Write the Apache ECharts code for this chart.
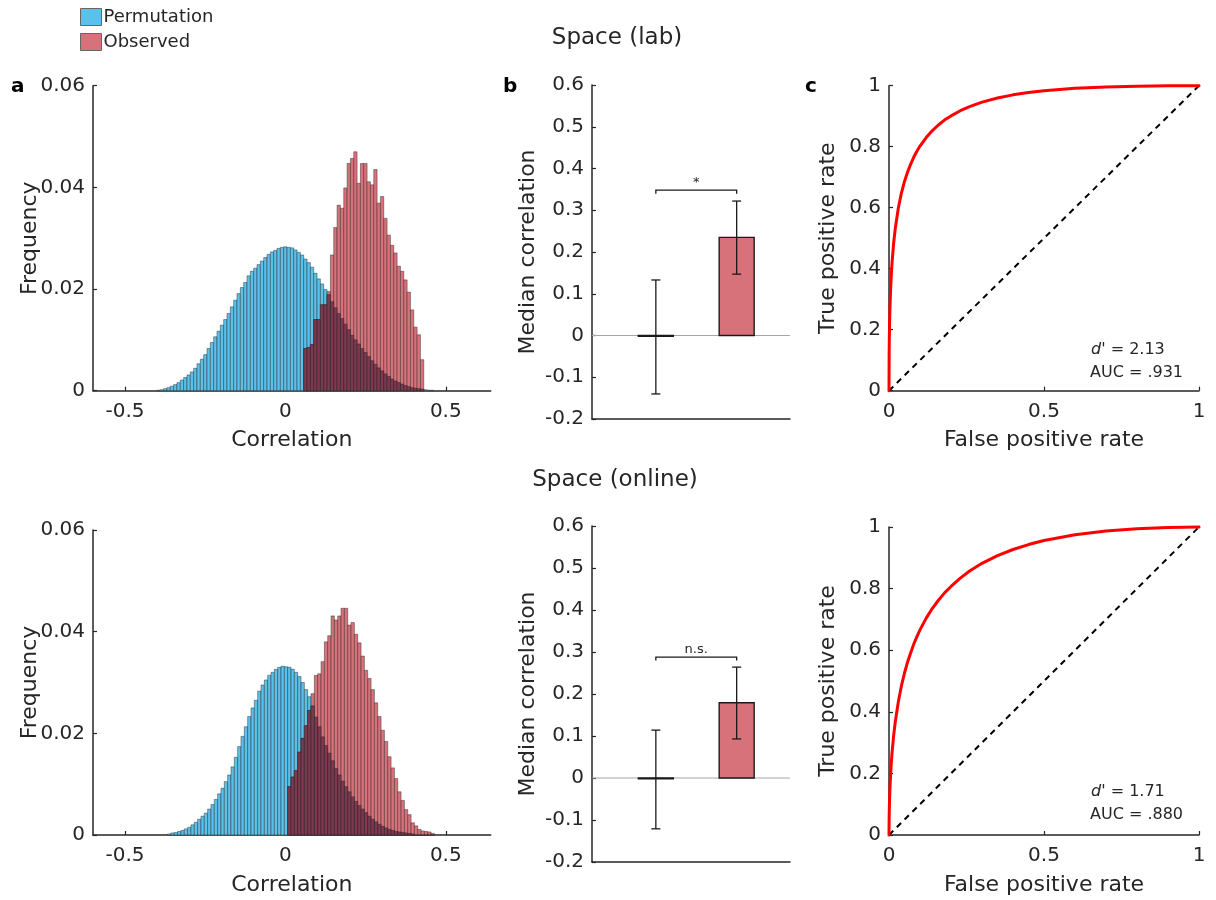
<!DOCTYPE html>
<html><head><meta charset="utf-8">
<script src="https://cdn.jsdelivr.net/npm/echarts@6/dist/echarts.min.js"></script>
<style>html,body{margin:0;padding:0;background:#fff}#c{width:1216px;height:900px}</style>
</head><body><div id="c"></div>
<script>
// ---------------- DATA ----------------
const histBinWidth = 0.0104;
const histXTicks = [-0.5, 0, 0.5];

// Space (lab): permutation histogram (bins from permTopStart)
const permTopStart = -0.4006;
const permTop = [0.0001,0.0002,0.0004,0.0006,0.0009,0.0012,0.0016,0.0021,0.0026,0.0031,
 0.0037,0.0044,0.0053,0.0062,0.0071,0.0083,0.0095,0.0106,0.0117,0.0129,
 0.0140,0.0152,0.0165,0.0178,0.0191,0.0203,0.0213,0.0226,0.0235,0.0241,
 0.0248,0.0255,0.0262,0.0268,0.0273,0.0276,0.0280,0.0282,0.0283,0.0282,
 0.0281,0.0277,0.0272,0.0267,0.0259,0.0252,0.0243,0.0231,0.0220,0.0210,
 0.0199,0.0189,0.0175,0.0163,0.0152,0.0142,0.0131,0.0120,0.0109,0.0100,
 0.0092,0.0083,0.0075,0.0067,0.0059,0.0052,0.0045,0.0039,0.0033,0.0028,
 0.0023,0.0019,0.0016,0.0013,0.0010,0.0008,0.0006,0.0005,0.0004,0.0003,
 0.0002,0.0001,0.0001];
// Space (lab): observed histogram, first bin index on same grid
const obsTopFirstBin = 44;
const obsTop = [0.0083,0.0085,0.0091,0.0140,0.0140,0.0169,0.0169,0.0195,0.0267,0.0321,
 0.0365,0.0359,0.0399,0.0447,0.0457,0.0470,0.0408,0.0447,0.0447,0.0411,
 0.0405,0.0435,0.0369,0.0382,0.0339,0.0306,0.0286,0.0271,0.0245,0.0235,
 0.0218,0.0194,0.0159,0.0125,0.0110,0.0061];

// Space (online)
const permBotStart = -0.3674;
const permBot = [0.0002,0.0004,0.0005,0.0007,0.0009,0.0012,0.0015,0.0020,0.0025,0.0031,
 0.0037,0.0043,0.0051,0.0060,0.0070,0.0081,0.0092,0.0105,0.0118,0.0134,
 0.0153,0.0174,0.0194,0.0213,0.0233,0.0250,0.0265,0.0283,0.0295,0.0305,
 0.0314,0.0320,0.0326,0.0330,0.0332,0.0331,0.0330,0.0326,0.0320,0.0312,
 0.0300,0.0286,0.0272,0.0254,0.0232,0.0213,0.0193,0.0176,0.0161,0.0146,
 0.0131,0.0118,0.0106,0.0095,0.0085,0.0075,0.0066,0.0058,0.0051,0.0044,
 0.0037,0.0031,0.0026,0.0021,0.0017,0.0014,0.0011,0.0009,0.0007,0.0006,
 0.0005,0.0004,0.0003,0.0002];
const obsBotFirstBin = 36;
const obsBot = [0.0095,0.0114,0.0127,0.0163,0.0190,0.0215,0.0245,0.0278,0.0314,0.0317,
 0.0341,0.0380,0.0392,0.0431,0.0423,0.0431,0.0446,0.0446,0.0413,0.0418,
 0.0395,0.0378,0.0352,0.0324,0.0308,0.0286,0.0260,0.0233,0.0206,0.0184,
 0.0154,0.0132,0.0111,0.0085,0.0068,0.0050,0.0040,0.0024,0.0018,0.0011,
 0.0008,0.0007,0.0006,0.0003];

// Median correlation bars (category positions 1 = permutation, 2 = observed)
const barCategories = [1, 2];
const medianTop = [-0.002, 0.235];
const errLowTop = [-0.140, 0.147];
const errHighTop = [0.133, 0.322];
const sigTopY = 0.348, sigTopLabel = '*';
const medianBot = [-0.002, 0.179];
const errLowBot = [-0.121, 0.093];
const errHighBot = [0.114, 0.264];
const sigBotY = 0.288, sigBotLabel = 'n.s.';

// ROC curves
const fpr = [0, 0.0005, 0.001, 0.002, 0.003, 0.005, 0.0075, 0.01, 0.015, 0.02, 0.03, 0.04, 0.05, 0.06, 0.07, 0.08, 0.09,
  0.1, 0.12, 0.14, 0.16, 0.18, 0.2, 0.23, 0.26, 0.3, 0.35, 0.4, 0.45, 0.5, 0.6, 0.7, 0.8, 0.9, 1];
const tprTop = [0, 0.123, 0.169, 0.227, 0.268, 0.328, 0.381, 0.422, 0.484, 0.530, 0.598, 0.648, 0.686, 0.717, 0.743, 0.766, 0.785,
  0.802, 0.830, 0.853, 0.872, 0.888, 0.901, 0.918, 0.9315, 0.946, 0.9595, 0.970, 0.9775, 0.9834, 0.9914, 0.996, 0.9985, 0.9997, 1];
const tprBot = [0, 0.057, 0.084, 0.121, 0.150, 0.193, 0.235, 0.269, 0.323, 0.365, 0.432, 0.484, 0.526, 0.562, 0.592, 0.620, 0.644,
  0.666, 0.704, 0.736, 0.763, 0.787, 0.807, 0.834, 0.857, 0.882, 0.907, 0.927, 0.943, 0.956, 0.975, 0.987, 0.9946, 0.9986, 1];
const dPrimeText = ['2.13', '1.71'];
const aucText = ['.931', '.880'];

// ---------------- STYLE ----------------
const FONT = 'DejaVu Sans';
const INK = '#262626';
const BLUE = '#5BC0EA';
const RED = '#D8727A';
const DARK = '#7C3A50';
const EDGE = 'rgba(30,30,30,0.6)';
const axisLine = {show: true, onZero: false, lineStyle: {color: INK, width: 1.5}};
const tickInside = {show: true, inside: true, length: 4, lineStyle: {color: INK, width: 1.2}};
const lblStyle = {color: INK, fontSize: 20, fontFamily: FONT};
const nameStyle = {color: INK, fontSize: 22, fontFamily: FONT};

function binRows(start, values, first) {
  return values.map((v, i) => [start + (first + i) * histBinWidth, start + (first + i + 1) * histBinWidth, v]);
}
function overlapRows(start, obs, first, perm) {
  return obs.map((v, i) => [start + (first + i) * histBinWidth, start + (first + i + 1) * histBinWidth,
    Math.min(v, perm[first + i] || 0)]);
}
function histRender(fill) {
  return function (params, api) {
    const a = api.coord([api.value(0), 0]);
    const b = api.coord([api.value(1), api.value(2)]);
    return {type: 'rect', shape: {x: a[0], y: b[1], width: b[0] - a[0], height: a[1] - b[1]},
      style: {fill: fill, stroke: EDGE, lineWidth: 0.7}};
  };
}
function histSeries(name, idx, data, fill) {
  return {type: 'custom', name: name, xAxisIndex: idx, yAxisIndex: idx, data: data,
    encode: {x: [0, 1], y: 2}, renderItem: histRender(fill), itemStyle: {color: fill},
    silent: true, animation: false};
}

const grids = [
  {left: 93, right: 725.3, top: 85.7, bottom: 509.3},
  {left: 93, right: 725.3, top: 530, bottom: 65},
  {left: 592, right: 426, top: 85, bottom: 481},
  {left: 592, right: 426, top: 526, bottom: 38},
  {left: 889, right: 17, top: 85.7, bottom: 509.3},
  {left: 889, right: 17, top: 527, bottom: 65}
].map(g => Object.assign({containLabel: false, outerBoundsMode: 'none'}, g));

function histX(i) {
  return {type: 'value', gridIndex: i, min: -0.6, max: 0.64, axisLine: axisLine,
    axisTick: Object.assign({customValues: histXTicks}, tickInside),
    axisLabel: Object.assign({customValues: histXTicks, margin: 11, formatter: v => v === 0 ? '0' : String(v)}, lblStyle),
    splitLine: {show: false}, name: 'Correlation', nameLocation: 'middle', nameGap: 39,
    nameTextStyle: nameStyle, nameMoveOverlap: false};
}
function histY(i) {
  return {type: 'value', gridIndex: i, min: 0, max: 0.06, interval: 0.02, axisLine: axisLine,
    axisTick: tickInside, axisLabel: Object.assign({margin: 8, formatter: v => v === 0 ? '0' : v.toFixed(2)}, lblStyle),
    splitLine: {show: false}, name: 'Frequency', nameLocation: 'middle', nameGap: 52, nameRotate: 90,
    nameTextStyle: nameStyle, nameMoveOverlap: false};
}
function barX(i) {
  return {type: 'value', gridIndex: i, min: 0.21, max: 2.66, axisLine: axisLine,
    axisTick: {show: false}, axisLabel: {show: false}, splitLine: {show: false}};
}
function barY(i) {
  return {type: 'value', gridIndex: i, min: -0.2, max: 0.6, interval: 0.1, axisLine: axisLine,
    axisTick: tickInside, axisLabel: Object.assign({margin: 8, formatter: v => Math.abs(v) < 1e-9 ? '0' : v.toFixed(1)}, lblStyle),
    splitLine: {show: false}, name: 'Median correlation', nameLocation: 'middle', nameGap: 53, nameRotate: 90,
    nameTextStyle: nameStyle, nameMoveOverlap: false};
}
function rocX(i) {
  return {type: 'value', gridIndex: i, min: 0, max: 1, interval: 0.5, axisLine: axisLine,
    axisTick: tickInside, axisLabel: Object.assign({margin: 11, formatter: v => v === 0 ? '0' : (v === 1 ? '1' : String(v))}, lblStyle),
    splitLine: {show: false}, name: 'False positive rate', nameLocation: 'middle', nameGap: 39,
    nameTextStyle: nameStyle, nameMoveOverlap: false};
}
function rocY(i) {
  return {type: 'value', gridIndex: i, min: 0, max: 1, interval: 0.2, axisLine: axisLine,
    axisTick: tickInside, axisLabel: Object.assign({margin: 8, formatter: v => v === 0 ? '0' : (Math.abs(v - 1) < 1e-9 ? '1' : v.toFixed(1))}, lblStyle),
    splitLine: {show: false}, name: 'True positive rate', nameLocation: 'middle', nameGap: 50, nameRotate: 90,
    nameTextStyle: nameStyle, nameMoveOverlap: false};
}

function barPanel(idx, med, lo, hi, sigY, sigLabel) {
  return [
    {type: 'custom', xAxisIndex: idx, yAxisIndex: idx, data: [[1, 0]], silent: true, animation: false, z: 1,
      renderItem: function (params, api) {
        const cs = params.coordSys; const y = api.coord([1, 0])[1];
        return {type: 'line', shape: {x1: cs.x, y1: y, x2: cs.x + cs.width, y2: y}, style: {stroke: '#A6A6A6', lineWidth: 1}};
      }},
    {type: 'custom', xAxisIndex: idx, yAxisIndex: idx, data: barCategories.map((c, i) => [c, med[i]]),
      encode: {x: 0, y: 1}, silent: true, animation: false, z: 2,
      renderItem: function (params, api) {
        const a = api.coord([api.value(0), 0]); const b = api.coord([api.value(0), api.value(1)]);
        const w = 35;
        return {type: 'rect', shape: {x: a[0] - w / 2, y: Math.min(a[1], b[1]), width: w, height: Math.max(Math.abs(a[1] - b[1]), 0.8)},
          style: {fill: RED, stroke: '#1a1a1a', lineWidth: 1.4}};
      }},
    {type: 'custom', xAxisIndex: idx, yAxisIndex: idx, data: barCategories.map((c, i) => [c, lo[i], hi[i]]),
      encode: {x: 0, y: [1, 2]}, silent: true, animation: false, z: 3,
      renderItem: function (params, api) {
        const p = api.coord([api.value(0), api.value(1)]); const q = api.coord([api.value(0), api.value(2)]);
        const cap = 4.5; const st = {stroke: '#1a1a1a', lineWidth: 1.3};
        return {type: 'group', children: [
          {type: 'line', shape: {x1: p[0], y1: p[1], x2: q[0], y2: q[1]}, style: st},
          {type: 'line', shape: {x1: p[0] - cap, y1: p[1], x2: p[0] + cap, y2: p[1]}, style: st},
          {type: 'line', shape: {x1: q[0] - cap, y1: q[1], x2: q[0] + cap, y2: q[1]}, style: st}
        ]};
      }},
    {type: 'custom', xAxisIndex: idx, yAxisIndex: idx, data: [[barCategories[0], barCategories[1], sigY]],
      silent: true, animation: false, z: 3,
      renderItem: function (params, api) {
        const a = api.coord([api.value(0), api.value(2)]); const b = api.coord([api.value(1), api.value(2)]);
        return {type: 'group', children: [
          {type: 'polyline', shape: {points: [[a[0], a[1] + 3.5], [a[0], a[1]], [b[0], b[1]], [b[0], b[1] + 3.5]]},
            style: {stroke: '#1a1a1a', lineWidth: 1.3, fill: null}},
          {type: 'text', x: (a[0] + b[0]) / 2, y: a[1] - 1,
            style: {text: sigLabel, align: 'center', verticalAlign: 'bottom', fontSize: 13, fontFamily: FONT, fill: INK}}
        ]};
      }}
  ];
}

function rocPanel(idx, tpr) {
  return [
    {type: 'line', xAxisIndex: idx, yAxisIndex: idx, data: [[0, 0], [1, 1]], showSymbol: false, silent: true,
      animation: false, lineStyle: {color: '#000', width: 2, type: [6, 5]}},
    {type: 'line', xAxisIndex: idx, yAxisIndex: idx, data: fpr.map((f, i) => [f, tpr[i]]), showSymbol: false,
      silent: true, animation: false, clip: false, smooth: false,
      lineStyle: {color: '#FF0000', width: 3, join: 'round', cap: 'round'}}
  ];
}

const series = [
  histSeries('Permutation', 0, binRows(permTopStart, permTop, 0), BLUE),
  histSeries('Observed', 0, binRows(permTopStart, obsTop, obsTopFirstBin), RED),
  histSeries('overlap', 0, overlapRows(permTopStart, obsTop, obsTopFirstBin, permTop), DARK),
  histSeries('Permutation', 1, binRows(permBotStart, permBot, 0), BLUE),
  histSeries('Observed', 1, binRows(permBotStart, obsBot, obsBotFirstBin), RED),
  histSeries('overlap', 1, overlapRows(permBotStart, obsBot, obsBotFirstBin, permBot), DARK),
  ...barPanel(2, medianTop, errLowTop, errHighTop, sigTopY, sigTopLabel),
  ...barPanel(3, medianBot, errLowBot, errHighBot, sigBotY, sigBotLabel),
  ...rocPanel(4, tprTop),
  ...rocPanel(5, tprBot)
];

function txt(x, y, text, size, extra) {
  return {type: 'text', x: x, y: y, silent: true,
    style: Object.assign({text: text, fontSize: size, fontFamily: FONT, fill: INK, align: 'left', verticalAlign: 'middle'}, extra || {})};
}
const italicRich = {i: {fontStyle: 'italic', fontSize: 16, fontFamily: FONT, fill: INK}};

const option = {
  backgroundColor: '#fff',
  animation: false,
  textStyle: {fontFamily: FONT},
  legend: {left: 75, top: 3, orient: 'vertical', itemWidth: 21, itemHeight: 17, itemGap: 7, icon: 'rect',
    data: ['Permutation', 'Observed'], selectedMode: false,
    itemStyle: {borderColor: '#666', borderWidth: 1},
    textStyle: {fontSize: 18, fontFamily: FONT, color: INK, padding: [0, 0, 0, -3]}},
  grid: grids,
  xAxis: [histX(0), histX(1), barX(2), barX(3), rocX(4), rocX(5)],
  yAxis: [histY(0), histY(1), barY(2), barY(3), rocY(4), rocY(5)],
  series: series,
  graphic: [
    txt(617, 38, 'Space (lab)', 23, {align: 'center'}),
    txt(615, 480, 'Space (online)', 23, {align: 'center'}),
    txt(11, 87, 'a', 20, {fontWeight: 'bold', fill: '#000'}),
    txt(503, 87, 'b', 20, {fontWeight: 'bold', fill: '#000'}),
    txt(805, 87, 'c', 20, {fontWeight: 'bold', fill: '#000'}),
    txt(1091, 350, "{i|d}' = " + dPrimeText[0], 16, {rich: italicRich}),
    txt(1090, 373, 'AUC = ' + aucText[0], 16),
    txt(1091, 792, "{i|d}' = " + dPrimeText[1], 16, {rich: italicRich}),
    txt(1090, 815, 'AUC = ' + aucText[1], 16)
  ]
};

const chart = echarts.init(document.getElementById('c'), null, {renderer: 'canvas'});
chart.setOption(option);
</script>
</body></html>
